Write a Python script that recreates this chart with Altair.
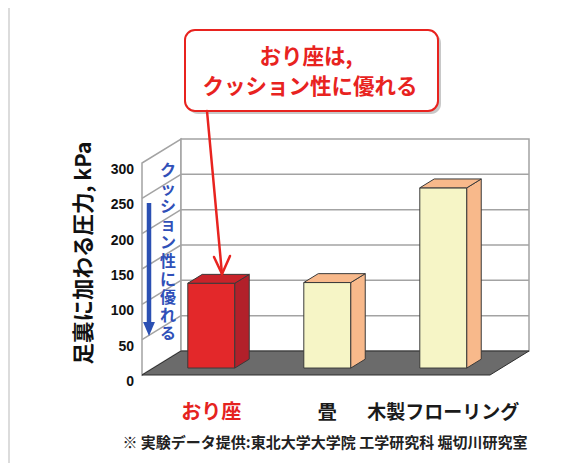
import altair as alt
import pandas as pd

# ---------------- data ----------------
categories = ["おり座", "畳", "木製フローリング"]
values = [120, 121, 255]
label_colors = ["#e5231f", "#1a1a1a", "#1a1a1a"]
front_colors = ["#e3282a", "#f6f5c6", "#f6f5c6"]
side_colors = ["#b2202a", "#f8b98b", "#f8b98b"]
top_colors = ["#c9232a", "#f8b98b", "#f8b98b"]
y_ticks = [0, 50, 100, 150, 200, 250, 300]
grid_values = [50, 100, 150, 200, 250]
y_max = 300
callout_lines = ["おり座は,", "クッション性に優れる"]
side_note = "クッション性に優れる"
y_title = "足裏に加わる圧力, kPa"
footnote = "※ 実験データ提供:東北大学大学院 工学研究科 堀切川研究室"

# ---------------- layout ----------------
W, H = 566, 455
M = 8                       # page margin
FRONT_LEFT_PX = 142         # window px of the front-left frame edge
FRONT_BASE_PX = 375         # window px of the front floor edge
UNIT_PX = 116               # px per category
KPA_PX = 212 / 300          # px per kPa
DX = 39 / UNIT_PX           # depth offset (category units)
DY = 24 / KPA_PX            # depth offset (kPa units)
BAR_W = 47 / UNIT_PX
F0, F1 = 0.29, 0.66         # bar front / back depth fraction
FONT = "Noto Sans CJK JP"


def u_of(px):
    return (px - FRONT_LEFT_PX) / UNIT_PX - 0.5


def k_of(py):
    return (FRONT_BASE_PX - py) / KPA_PX


xs = alt.Scale(domain=[u_of(M), u_of(M + W)], nice=False, zero=False)
ys = alt.Scale(domain=[k_of(M + H), k_of(M)], nice=False, zero=False)
L, R = -0.5, len(categories) - 0.5


def X(f):
    return alt.X(f"{f}:Q", scale=xs, axis=None)


def Y(f):
    return alt.Y(f"{f}:Q", scale=ys, axis=None)


# walls (vertical-oriented areas)
walls = pd.DataFrame([
    {"poly": "left", "u": L, "k0": 0, "k1": y_max},
    {"poly": "left", "u": L + DX, "k0": DY, "k1": y_max + DY},
    {"poly": "back", "u": L + DX, "k0": DY, "k1": y_max + DY},
    {"poly": "back", "u": R + DX, "k0": DY, "k1": y_max + DY},
])
walls_layer = alt.Chart(walls).mark_area(
    orient="vertical", fill="white", stroke="#a3a3a3", strokeWidth=1.5
).encode(x=X("u"), y=Y("k0"), y2="k1", detail="poly:N")

# gridlines
grid_rows = []
for v in grid_values:
    grid_rows.append({"u0": L, "k0": v, "u1": L + DX, "k1": v + DY})
    grid_rows.append({"u0": L + DX, "k0": v + DY, "u1": R + DX, "k1": v + DY})
grid_layer = alt.Chart(pd.DataFrame(grid_rows)).mark_rule(
    color="#a3a3a3", strokeWidth=1.5
).encode(x=X("u0"), y=Y("k0"), x2="u1", y2="k1")

# floor + bar tops (horizontal-oriented areas)
floor = pd.DataFrame([
    {"poly": "floor", "k": 0, "xl": L, "xr": R, "fill": "#6b6b6b"},
    {"poly": "floor", "k": DY, "xl": L + DX, "xr": R + DX, "fill": "#6b6b6b"},
])
floor_layer = alt.Chart(floor).mark_area(
    orient="horizontal", stroke="#2e2e2e", strokeWidth=1
).encode(y=Y("k"), x=X("xl"), x2="xr", detail="poly:N",
         fill=alt.Fill("fill:N", scale=None))

front_rows, side_rows, top_rows, label_rows = [], [], [], []
for i, (cat, v) in enumerate(zip(categories, values)):
    l0 = i - BAR_W / 2 + F0 * DX
    r0 = i + BAR_W / 2 + F0 * DX
    l1 = i - BAR_W / 2 + F1 * DX
    r1 = i + BAR_W / 2 + F1 * DX
    b0, b1 = F0 * DY, F1 * DY
    front_rows.append({"cat": cat, "x0": l0, "x1": r0, "y0": b0, "y1": v + b0,
                       "fill": front_colors[i]})
    side_rows.append({"cat": cat, "u": r0, "k0": b0, "k1": v + b0, "fill": side_colors[i]})
    side_rows.append({"cat": cat, "u": r1, "k0": b1, "k1": v + b1, "fill": side_colors[i]})
    top_rows.append({"cat": cat, "k": v + b0, "xl": l0, "xr": r0, "fill": top_colors[i]})
    top_rows.append({"cat": cat, "k": v + b1, "xl": l1, "xr": r1, "fill": top_colors[i]})
    label_rows.append({"cat": cat, "u": i + F0 * DX, "color": label_colors[i],
                       "size": 20 if i == 0 else 19})

bar_front = alt.Chart(pd.DataFrame(front_rows)).mark_rect(
    stroke="#3a3a3a", strokeWidth=1
).encode(x=X("x0"), x2="x1", y=Y("y0"), y2="y1",
         fill=alt.Fill("fill:N", scale=None))
bar_side = alt.Chart(pd.DataFrame(side_rows)).mark_area(
    orient="vertical", stroke="#3a3a3a", strokeWidth=1
).encode(x=X("u"), y=Y("k0"), y2="k1", detail="cat:N",
         fill=alt.Fill("fill:N", scale=None))
bar_top = alt.Chart(pd.DataFrame(top_rows)).mark_area(
    orient="horizontal", stroke="#3a3a3a", strokeWidth=1
).encode(y=Y("k"), x=X("xl"), x2="xr", detail="cat:N",
         fill=alt.Fill("fill:N", scale=None))

# tick labels
ticks_df = pd.DataFrame({"k": y_ticks, "u": [u_of(134)] * len(y_ticks),
                         "lab": [str(t) for t in y_ticks]})
tick_layer = alt.Chart(ticks_df).mark_text(
    align="right", baseline="middle", dy=7, font="Liberation Sans",
    fontWeight="bold", fontSize=14, color="#111111"
).encode(x=X("u"), y=Y("k"), text="lab:N")

# category labels
cat_layer = alt.Chart(pd.DataFrame(label_rows)).mark_text(
    align="center", baseline="middle", font=FONT, fontWeight="bold"
).encode(x=X("u"), y=alt.value(413 - M), text="cat:N",
         color=alt.Color("color:N", scale=None),
         size=alt.Size("size:Q", scale=None))

# y title
ytitle_layer = alt.Chart(pd.DataFrame({"t": [y_title]})).mark_text(
    angle=270, align="center", baseline="middle", font=FONT, fontWeight="bold",
    fontSize=21.5, color="#111111"
).encode(x=alt.value(85 - M), y=alt.value(253 - M), text="t:N")

# blue vertical note (one multi-line text, first line centred at y) + arrow
note_df = pd.DataFrame({"t": ["\n".join(side_note)]})
note_layer = alt.Chart(note_df).mark_text(
    align="center", baseline="middle", font=FONT, fontSize=16, fontWeight="bold",
    color="#3050b8", lineBreak="\n", lineHeight=18.1
).encode(x=alt.value(168 - M), y=alt.value(171 - M), text="t:N")
blue_shaft = alt.Chart(pd.DataFrame({"a": [0]})).mark_rule(
    color="#2b50b3", strokeWidth=4.5
).encode(x=alt.value(149 - M), y=alt.value(203 - M), y2=alt.value(324 - M))
blue_head = alt.Chart(pd.DataFrame({"a": [0]})).mark_point(
    shape="M-0.85,-1L0.85,-1L0,1Z", filled=True, opacity=1, color="#2b50b3", size=196
).encode(x=alt.value(149 - M), y=alt.value(329 - M))

# callout
shadow = alt.Chart(pd.DataFrame({"a": [0]})).mark_rect(
    cornerRadius=10, fill="#9a9a9a", opacity=0.55
).encode(x=alt.value(188 - M), x2=alt.value(441 - M), y=alt.value(33 - M), y2=alt.value(114 - M))
box = alt.Chart(pd.DataFrame({"a": [0]})).mark_rect(
    cornerRadius=10, fill="white", stroke="#e8231f", strokeWidth=2
).encode(x=alt.value(185 - M), x2=alt.value(438 - M), y=alt.value(30 - M), y2=alt.value(111 - M))
call_df = pd.DataFrame({"t": callout_lines, "py": [58 - M, 88 - M], "px": [306 - M, 310 - M]})
call_text = alt.Chart(call_df).mark_text(
    align="center", baseline="middle", font=FONT, fontWeight="bold",
    fontSize=21.5, color="#e8231f"
).encode(x=alt.X("px:Q", scale=None), y=alt.Y("py:Q", scale=None), text="t:N")

arrow_df = pd.DataFrame([
    {"x0": 207 - M, "y0": 111 - M, "x1": 222 - M, "y1": 274 - M},
    {"x0": 214 - M, "y0": 257 - M, "x1": 222 - M, "y1": 274 - M},
    {"x0": 230 - M, "y0": 256 - M, "x1": 222 - M, "y1": 274 - M},
])
red_arrow = alt.Chart(arrow_df).mark_rule(
    color="#e8231f", strokeWidth=2.5, strokeCap="round"
).encode(x=alt.X("x0:Q", scale=None), y=alt.Y("y0:Q", scale=None),
         x2="x1:Q", y2="y1:Q")

# footnote
foot_layer = alt.Chart(pd.DataFrame({"t": [footnote]})).mark_text(
    align="center", baseline="middle", font=FONT, fontWeight="bold",
    fontSize=15, color="#222222"
).encode(x=alt.value(325 - M), y=alt.value(443 - M), text="t:N")

# left gray strip
strip = alt.Chart(pd.DataFrame({"a": [0]})).mark_rect(fill="#dcdcdc").encode(
    x=alt.value(0), x2=alt.value(2), y=alt.value(0), y2=alt.value(H))

chart = alt.layer(
    strip, walls_layer, grid_layer, floor_layer, bar_front, bar_side, bar_top,
    tick_layer, cat_layer, ytitle_layer, note_layer, blue_shaft, blue_head,
    shadow, box, call_text, red_arrow, foot_layer
).properties(
    width=W, height=H, padding=0, autosize=alt.AutoSizeParams(type="none"),
    background="white"
).configure_view(stroke=None)

chart.save("out.html", embed_options={"renderer": "svg", "actions": False})
